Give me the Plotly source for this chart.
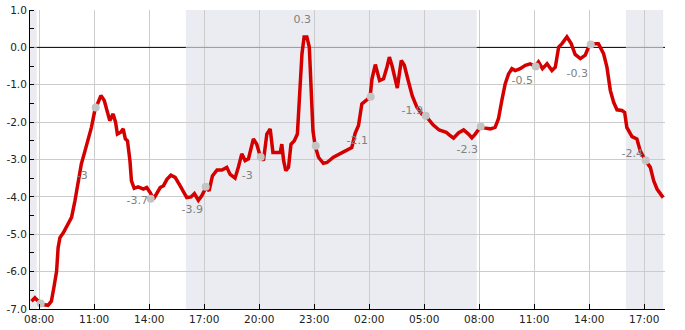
import plotly.graph_objects as go
from datetime import datetime, timedelta

DAY0 = "2024-01-10"

# ---- main series (clock time, value) ----
times = ["07:35","07:46","07:57","08:13","08:29","08:40","08:48","08:57","09:02","09:08",
         "09:19","09:35","09:46","09:57","10:08","10:18","10:30","10:40","10:51","11:02",
         "11:13","11:22","11:33","11:44","11:51","12:02","12:10","12:16","12:27","12:35",
         "12:42","12:49","12:57","13:02","13:11","13:24","13:31","13:41","13:52","14:03",
         "14:14","14:25","14:36","14:47","14:58","15:11","15:25","15:41","15:52","16:03",
         "16:17","16:28","16:41","16:52","17:06","17:16","17:27","17:42","17:58","18:14",
         "18:25","18:41","18:52","19:03","19:14","19:25","19:41","19:52","20:03","20:14",
         "20:25","20:36","20:45","20:58","21:09","21:14","21:20","21:27","21:36","21:44",
         "21:55","22:05","22:12","22:20","22:27","22:36","22:44","22:49","22:56","23:03",
         "23:14","23:30","23:42","00:03","00:25","00:47","01:03","01:14","01:25","01:36",
         "01:52","02:03","02:09","02:20","02:34","02:47","02:58","03:06","03:15","03:32",
         "03:45","03:55","04:08","04:21","04:36","04:52","05:09","05:29","05:49","06:12",
         "06:22","06:36","06:52","07:09","07:25","07:36","07:47","08:03","08:20","08:36",
         "08:52","09:03","09:14","09:25","09:36","09:47","09:58","10:14","10:31","10:47",
         "11:03","11:14","11:27","11:42","11:58","12:09","12:20","12:31","12:47","13:01",
         "13:14","13:31","13:47","13:58","14:14","14:30","14:47","14:58","15:09","15:20",
         "15:31","15:47","15:56","16:03","16:20","16:36","16:47","17:04","17:20","17:31",
         "17:42","17:52","18:02"]
values = [-6.79,-6.70,-6.79,-6.88,-6.90,-6.79,-6.43,-5.99,-5.36,-5.09,
          -4.96,-4.73,-4.55,-4.11,-3.57,-3.12,-2.77,-2.50,-2.14,-1.69,
          -1.47,-1.29,-1.42,-1.78,-1.96,-1.78,-2.00,-2.32,-2.27,-2.18,
          -2.45,-2.50,-3.03,-3.57,-3.77,-3.73,-3.75,-3.79,-3.75,-3.88,
          -4.06,-3.88,-3.75,-3.70,-3.53,-3.42,-3.48,-3.70,-3.88,-4.02,
          -4.00,-3.91,-4.09,-3.97,-3.75,-3.84,-3.44,-3.28,-3.28,-3.21,
          -3.40,-3.50,-3.20,-2.85,-3.03,-2.98,-2.45,-2.59,-2.90,-3.03,
          -2.32,-2.18,-2.81,-2.81,-2.81,-2.59,-3.03,-3.30,-3.21,-2.59,
          -2.50,-2.32,-1.42,-0.17,0.28,0.28,0.01,-1.07,-2.23,-2.63,
          -2.94,-3.10,-3.08,-2.94,-2.85,-2.77,-2.68,-2.30,-2.09,-1.51,
          -1.42,-1.33,-0.85,-0.46,-0.89,-0.84,-0.53,-0.26,-0.50,-1.09,
          -0.35,-0.48,-0.90,-1.30,-1.60,-1.78,-1.87,-2.07,-2.21,-2.27,
          -2.34,-2.43,-2.29,-2.21,-2.32,-2.42,-2.32,-2.14,-2.16,-2.18,
          -2.14,-1.91,-1.42,-0.98,-0.71,-0.57,-0.62,-0.57,-0.48,-0.44,
          -0.51,-0.39,-0.57,-0.44,-0.62,-0.53,0.01,0.10,0.28,0.10,
          -0.19,-0.30,-0.21,0.01,0.10,0.10,-0.17,-0.53,-1.15,-1.47,
          -1.67,-1.69,-1.74,-2.14,-2.39,-2.45,-2.77,-3.03,-3.21,-3.57,
          -3.79,-3.91,-4.02]

# ---- hourly sample markers ----
marker_times = ["08:05","11:05","14:05","17:05","20:05","23:05","02:05","05:05",
                "08:05","11:05","14:05","17:05"]
marker_values = [-6.85,-1.61,-4.05,-3.73,-2.93,-2.63,-1.32,-1.83,-2.12,-0.51,0.08,-3.03]

# ---- value labels ----
label_times = ["10:21","13:21","16:21","19:21","22:21","01:21","04:21","07:21",
               "10:21","13:21","16:21"]
label_y = [-3.44,-4.13,-4.35,-3.44,0.72,-2.52,-1.72,-2.74,-0.91,-0.72,-2.85]
label_text = ["-3","-3.7","-3.9","-3","0.3","-2.1","-1.9","-2.3","-0.5","-0.3","-2.4"]

# ---- night (dark) intervals and axis ----
night_starts = ["2024-01-10 07:30","2024-01-10 16:00","2024-01-11 16:00"]
night_ends = ["2024-01-10 07:52","2024-01-11 07:52","2024-01-11 18:02"]
x_start, x_end = "2024-01-10 07:30", "2024-01-11 18:08"
y_ticks = [1.0,0.0,-1.0,-2.0,-3.0,-4.0,-5.0,-6.0,-7.0]


def to_dt(clock_list):
    base = datetime.fromisoformat(DAY0 + " 00:00")
    out, day, prev = [], 0, None
    for c in clock_list:
        h, m = map(int, c.split(":"))
        mins = h * 60 + m
        if prev is not None and mins < prev:
            day += 1
        prev = mins
        out.append(base + timedelta(days=day, minutes=mins))
    return out


xs = to_dt(times)
mx = to_dt(marker_times)
lx = to_dt(label_times)

fig = go.Figure()
fig.add_trace(go.Scatter(x=xs, y=values, mode="lines",
                         line=dict(color="#d40000", width=3.5), hoverinfo="skip"))
fig.add_trace(go.Scatter(x=mx, y=marker_values, mode="markers",
                         marker=dict(color="#c4c4c4", size=8), hoverinfo="skip"))
fig.add_trace(go.Scatter(x=lx, y=label_y, mode="text", text=label_text,
                         textfont=dict(family="DejaVu Sans", size=11, color="#808080"),
                         hoverinfo="skip"))

shapes = []
for s, e in zip(night_starts, night_ends):
    shapes.append(dict(type="rect", xref="x", yref="paper", x0=s, x1=e, y0=0, y1=1,
                       fillcolor="rgba(30,40,100,0.09)", line=dict(width=0), layer="below"))
# zero line: grey through night, black through day
for s, e in zip(night_starts, night_ends):
    shapes.append(dict(type="line", xref="x", yref="y", x0=s, x1=e, y0=0, y1=0,
                       line=dict(color="#9a9a9a", width=1), layer="between"))
for e, s in zip(night_ends[:-1], night_starts[1:]):
    shapes.append(dict(type="line", xref="x", yref="y", x0=e, x1=s, y0=0, y1=0,
                       line=dict(color="#000000", width=1), layer="between"))
shapes.append(dict(type="line", xref="x", yref="y", x0=night_ends[-1], x1=x_end, y0=0, y1=0,
                   line=dict(color="#000000", width=1), layer="between"))

fig.update_layout(
    width=685, height=330,
    margin=dict(l=30, r=20, t=10, b=21),
    plot_bgcolor="white", paper_bgcolor="white",
    showlegend=False, shapes=shapes,
    font=dict(family="DejaVu Sans", size=10.5, color="#222"),
    xaxis=dict(type="date", range=[x_start, x_end], automargin=False,
               tick0="2024-01-10 08:00", dtick=3 * 3600 * 1000, tickformat="%H:%M",
               showgrid=True, gridcolor="#cccccc", gridwidth=1,
               ticks="inside", ticklen=5, tickcolor="#000",
               showline=True, linecolor="#000", linewidth=1,
               zeroline=False, fixedrange=True),
    yaxis=dict(range=[-7.0, 1.0], tickvals=y_ticks, automargin=False,
               ticktext=[f"{v:.1f}" for v in y_ticks],
               showgrid=True, gridcolor="#cccccc", gridwidth=1,
               ticks="", showline=True, linecolor="#000", linewidth=1,
               zeroline=False, fixedrange=True,
               minor=dict(ticks="inside", ticklen=4, tickcolor="#000", dtick=0.5,
                          tick0=0.5, showgrid=False)),
)

fig.write_html("out.html", config={"displayModeBar": False})
